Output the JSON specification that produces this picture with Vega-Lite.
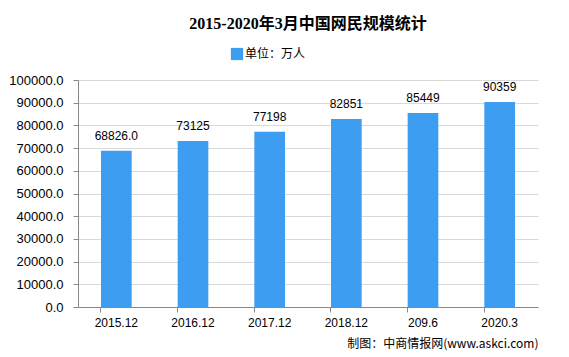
{
  "$schema": "https://vega.github.io/schema/vega-lite/v6.json",
  "width": 460,
  "height": 227,
  "autosize": {"type": "none"},
  "padding": {"left": 78, "top": 80, "right": 31, "bottom": 50},
  "background": "white",
  "title": {
    "text": "2015-2020年3月中国网民规模统计",
    "font": "Liberation Serif, Noto Sans CJK SC",
    "fontSize": 16,
    "fontWeight": "bold",
    "color": "#000000",
    "anchor": "middle",
    "offset": 15
  },
  "data": {
    "values": [
      {"period": "2015.12", "value": 68826.0, "label": "68826.0", "unit": "单位：万人"},
      {"period": "2016.12", "value": 73125, "label": "73125", "unit": "单位：万人"},
      {"period": "2017.12", "value": 77198, "label": "77198", "unit": "单位：万人"},
      {"period": "2018.12", "value": 82851, "label": "82851", "unit": "单位：万人"},
      {"period": "209.6", "value": 85449, "label": "85449", "unit": "单位：万人"},
      {"period": "2020.3", "value": 90359, "label": "90359", "unit": "单位：万人"}
    ]
  },
  "encoding": {
    "x": {
      "field": "period",
      "type": "nominal",
      "sort": null,
      "scale": {"paddingInner": 0.6, "paddingOuter": 0.3},
      "axis": {
        "title": "制图：中商情报网(www.askci.com)",
        "titleAnchor": "end",
        "titleFont": "Noto Sans CJK SC",
        "titleFontSize": 12,
        "titleFontWeight": "normal",
        "titleColor": "#000000",
        "titlePadding": 10,
        "labelAngle": 0,
        "labelFont": "Liberation Sans",
        "labelFontSize": 12,
        "labelColor": "#000000",
        "labelPadding": 5,
        "bandPosition": 0,
        "domainColor": "#888888",
        "tickColor": "#888888",
        "tickSize": 5,
        "grid": false
      }
    },
    "y": {
      "field": "value",
      "type": "quantitative",
      "scale": {"domain": [0, 100000], "nice": false},
      "axis": {
        "title": null,
        "values": [0, 10000, 20000, 30000, 40000, 50000, 60000, 70000, 80000, 90000, 100000],
        "format": ".1f",
        "labelFont": "Liberation Sans",
        "labelFontSize": 13,
        "labelColor": "#000000",
        "labelPadding": 10,
        "domainColor": "#888888",
        "tickColor": "#888888",
        "tickSize": 5,
        "gridColor": "#d9d9d9"
      }
    }
  },
  "layer": [
    {
      "mark": {"type": "bar", "color": "#3d9df0"},
      "encoding": {
        "color": {
          "field": "unit",
          "type": "nominal",
          "scale": {"range": ["#3d9df0"]},
          "legend": {
            "title": null,
            "orient": "none",
            "legendX": 152,
            "legendY": -33,
            "symbolType": "square",
            "symbolSize": 150,
            "symbolOpacity": 1,
            "labelFont": "Noto Sans CJK SC",
            "labelFontSize": 12,
            "labelColor": "#000000",
            "labelOffset": 1
          }
        }
      }
    },
    {
      "mark": {"type": "text", "dy": -8, "font": "Liberation Sans", "fontSize": 12, "color": "#000000", "baseline": "bottom"},
      "encoding": {"text": {"field": "label"}}
    }
  ],
  "config": {"view": {"stroke": null}}
}
